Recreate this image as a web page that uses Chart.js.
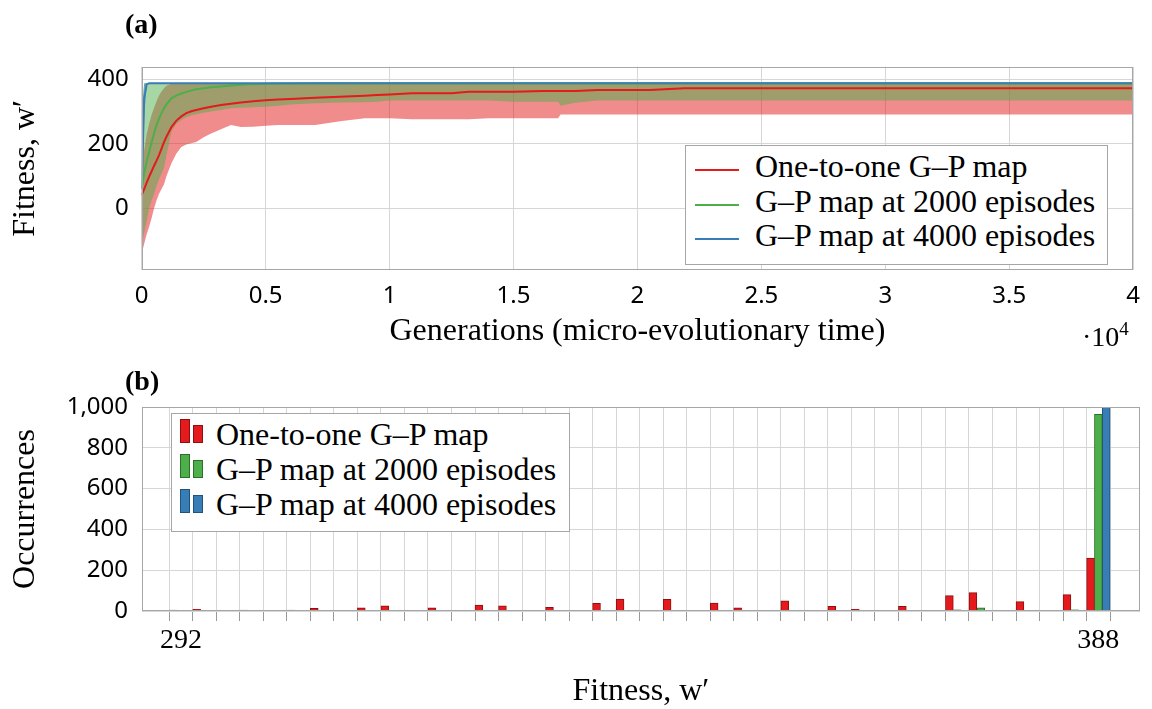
<!DOCTYPE html>
<html>
<head>
<meta charset="utf-8">
<script src="https://cdn.jsdelivr.net/npm/chart.js@4.4.0/dist/chart.umd.min.js"></script>
<style>
  html, body { margin: 0; padding: 0; background: #fff; }
  body { width: 1152px; height: 709px; position: relative; overflow: hidden; font-family: "Liberation Serif", serif; color: #000; }
  canvas { position: absolute; left: 0; }
  #chartA { top: 0; }
  #chartB { top: 355px; }
  .panel-tag { position: absolute; font-weight: bold; font-size: 28px; line-height: 28px; }
  #tagA { left: 125px; top: 10px; }
  #tagB { left: 125px; top: 367px; }
  #expo { position: absolute; left: 1082px; top: 322px; font-size: 28px; line-height: 30px; }
  #expo sup { font-size: 19px; vertical-align: 11px; line-height: 0; }
  .legend-box { position: absolute; background: #fff; border: 1px solid #a6a6a6; box-sizing: border-box; }
  #legendA { left: 685px; top: 145px; width: 423px; height: 120px; }
  #legendB { left: 171px; top: 413px; width: 399px; height: 119px; }
  .legend-row { position: absolute; left: 0; right: 0; height: 34px; font-size: 32px; line-height: 34px; white-space: nowrap; }
  #legendA .legend-text { position: absolute; left: 69px; }
  #legendB .legend-text { position: absolute; left: 44px; }
  .line-icon { position: absolute; left: 9px; top: 20px; width: 44px; height: 2px; }
  .bar-icon { position: absolute; box-sizing: border-box; border: 1px solid; bottom: 8px; }
</style>
</head>
<body>
<canvas id="chartA" width="1152" height="355"></canvas>
<canvas id="chartB" width="1152" height="354"></canvas>
<div class="panel-tag" id="tagA">(a)</div>
<div class="panel-tag" id="tagB">(b)</div>
<div id="expo">·10<sup>4</sup></div>
<div class="legend-box" id="legendA"></div>
<div class="legend-box" id="legendB"></div>
<script>
// séries comuns aos dois painéis
const seriesNames = ['One-to-one G–P map', 'G–P map at 2000 episodes', 'G–P map at 4000 episodes'];
const seriesColors = ['#e41a1c', '#4daf4a', '#377eb8'];
const seriesBands = ['rgba(228,26,28,0.5)', 'rgba(77,175,74,0.5)', 'rgba(55,126,184,0.5)'];
const seriesEdges = ['#8c1012', '#2d6e2b', '#22527a'];

// painel (a): aptidão ao longo das gerações
const gens = [0, 100, 200, 300, 400, 500, 600, 700, 800, 900,
  1000, 1200, 1400, 1600, 1800, 2000, 2200, 2500, 2800, 3200,
  3600, 4000, 4500, 5000, 5500, 6000, 7000, 8000, 9000, 9500,
  10000, 10900, 11500, 12500, 13200, 14000, 15000, 16200, 16800, 16900,
  17500, 18400, 19500, 20500, 21900, 25000, 30000, 35000, 40000];

const redMean = [41, 60, 80, 98, 115, 132, 148, 165, 185, 205,
  222, 252, 272, 285, 295, 301, 305, 310, 315, 320,
  324, 328, 332, 335, 337, 339, 343, 346, 349, 351,
  353, 357, 357, 357, 361, 361, 361, 364, 364, 364,
  364, 367, 367, 367, 372, 372, 372, 372, 372];
const redLo = [-140, -110, -80, -57, -30, 0, 25, 45, 60, 75,
  100, 140, 170, 190, 198, 202, 206, 220, 232, 245,
  258, 252, 253, 256, 258, 258, 258, 270, 279, 279,
  279, 276, 276, 276, 276, 279, 279, 279, 279, 291,
  291, 291, 291, 291, 291, 291, 291, 291, 291];
const redHi = [100, 180, 230, 262, 290, 312, 332, 350, 362, 372,
  380, 386, 388, 388, 388, 388, 388, 388, 388, 388,
  388, 388, 388, 388, 388, 388, 388, 388, 388, 388,
  388, 388, 388, 388, 388, 388, 388, 388, 388, 388,
  388, 388, 388, 388, 388, 388, 388, 388, 388];

const greenMean = [60, 110, 145, 175, 205, 232, 258, 278, 295, 310,
  322, 341, 350, 356, 361, 365, 369, 372, 375, 378,
  381, 383, 385, 386, 387, 387, 388, 388, 388, 388,
  388, 388, 388, 388, 388, 388, 388, 388, 388, 388,
  388, 388, 388, 388, 388, 388, 388, 388, 388];
const greenLo = [-110, -75, -40, 0, 25, 45, 70, 90, 108, 125,
  165, 238, 262, 274, 282, 288, 292, 296, 300, 305,
  310, 312, 313, 315, 318, 322, 326, 328, 329, 330,
  334, 334, 334, 334, 334, 334, 330, 330, 330, 318,
  327, 334, 334, 334, 334, 334, 334, 334, 334];
const greenHi = [300, 388, 388, 388, 388, 388, 388, 388, 388, 388,
  388, 388, 388, 388, 388, 388, 388, 388, 388, 388,
  388, 388, 388, 388, 388, 388, 388, 388, 388, 388,
  388, 388, 388, 388, 388, 388, 388, 388, 388, 388,
  388, 388, 388, 388, 388, 388, 388, 388, 388];

const blueMean = [60, 340, 384, 388, 388, 388, 388, 388, 388, 388,
  388, 388, 388, 388, 388, 388, 388, 388, 388, 388,
  388, 388, 388, 388, 388, 388, 388, 388, 388, 388,
  388, 388, 388, 388, 388, 388, 388, 388, 388, 388,
  388, 388, 388, 388, 388, 388, 388, 388, 388];
const blueLo = [-114, 280, 383, 388, 388, 388, 388, 388, 388, 388,
  388, 388, 388, 388, 388, 388, 388, 388, 388, 388,
  388, 388, 388, 388, 388, 388, 388, 388, 388, 388,
  388, 388, 388, 388, 388, 388, 388, 388, 388, 388,
  388, 388, 388, 388, 388, 388, 388, 388, 388];
const blueHi = [300, 388, 388, 388, 388, 388, 388, 388, 388, 388,
  388, 388, 388, 388, 388, 388, 388, 388, 388, 388,
  388, 388, 388, 388, 388, 388, 388, 388, 388, 388,
  388, 388, 388, 388, 388, 388, 388, 388, 388, 388,
  388, 388, 388, 388, 388, 388, 388, 388, 388];

const yTicksA = [0, 200, 400];

// painel (b): histograma da aptidão final (40 classes)
const occRed = [4, 8, 0, 4, 0, 4, 13, 0, 15, 25,
  0, 16, 0, 29, 25, 0, 18, 0, 38, 59,
  0, 57, 0, 39, 16, 0, 50, 0, 23, 8,
  0, 23, 0, 75, 90, 0, 46, 0, 80, 259];
const occGreen = [0, 0, 0, 0, 0, 0, 0, 0, 0, 0,
  0, 0, 0, 0, 0, 0, 0, 0, 2, 0,
  0, 0, 0, 0, 0, 0, 0, 0, 2, 0,
  0, 2, 0, 6, 16, 0, 2, 0, 6, 964];
const occBlue = [0, 0, 0, 0, 0, 0, 0, 0, 0, 0,
  0, 0, 0, 0, 0, 0, 0, 0, 0, 0,
  0, 0, 0, 0, 0, 0, 0, 0, 0, 0,
  0, 0, 0, 0, 0, 0, 0, 0, 0, 1000];
const binTickPos = [0, 39];
const binTickLabels = ['292', '388'];

const gridColor = '#d6d6d6';
const frameColor = '#a6a6a6';
const tickFont = { family: 'Noto Sans', size: 24 };
const titleFont = { family: 'Liberation Serif', size: 32 };

Chart.defaults.color = '#000';
Chart.defaults.elements.point.radius = 0;

// Moldura completa em volta da área do gráfico (estilo pgfplots).
const framePlugin = {
    id: 'frame',
    afterDatasetsDraw(chart) {
        const { ctx, chartArea: a } = chart;
        ctx.save();
        ctx.strokeStyle = frameColor;
        ctx.lineWidth = 1;
        ctx.strokeRect(Math.round(a.left) + 0.5, Math.round(a.top) + 0.5, Math.round(a.width) - 1, Math.round(a.height) - 1);
        ctx.restore();
    }
};

const toXY = values => values.map((v, i) => ({ x: gens[i], y: v }));

// Painel (a): faixas (min–max) + médias.
const bandLo = [redLo, greenLo, blueLo];
const bandHi = [redHi, greenHi, blueHi];
const means = [redMean, greenMean, blueMean];
const datasetsA = [];
seriesNames.forEach((name, i) => {
    const order = 3 - i; // azul por cima
    datasetsA.push({ data: toXY(bandLo[i]), borderWidth: 0, fill: false, order });
    datasetsA.push({ data: toXY(bandHi[i]), borderWidth: 0, fill: '-1', backgroundColor: seriesBands[i], order });
});
seriesNames.forEach((name, i) => {
    datasetsA.push({ label: name, data: toXY(means[i]), borderColor: seriesColors[i], borderWidth: 2, fill: false, order: 3 - i });
});

new Chart(document.getElementById('chartA'), {
    type: 'line',
    data: { datasets: datasetsA },
    options: {
        responsive: false,
        animation: false,
        devicePixelRatio: 1,
        layout: { padding: { top: 66.7, right: 12, left: 0, bottom: 0 } },
        plugins: {
            legend: { display: false },
            tooltip: { enabled: false },
            filler: { drawTime: 'beforeDatasetsDraw' }
        },
        scales: {
            x: {
                type: 'linear', min: 0, max: 40000,
                ticks: { stepSize: 5000, callback: v => String(v / 1e4), font: tickFont, padding: 12, maxRotation: 0 },
                grid: { color: gridColor, drawTicks: false },
                border: { display: false },
                title: { display: true, text: 'Generations (micro-evolutionary time)', font: titleFont, padding: { top: 0, bottom: 3.8 } },
                afterFit: s => { s.height = 85; }
            },
            y: {
                min: -191, max: 439,
                afterBuildTicks: s => { s.ticks = yTicksA.map(v => ({ value: v })); },
                ticks: { font: tickFont, padding: 13 },
                grid: { color: gridColor, drawTicks: false },
                border: { display: false },
                title: { display: true, text: 'Fitness, w′', font: titleFont, padding: { top: 6.8, bottom: 0 } },
                afterFit: s => { s.width = 141.7; }
            }
        }
    },
    plugins: [framePlugin]
});

// Painel (b): barras agrupadas sobre um eixo linear em índice de classe.
const occurrences = [occRed, occGreen, occBlue];
const binEdges = occRed.map((_, i) => i - 0.5).concat([occRed.length - 0.5]);
const xMinB = -1.67, xMaxB = 40.77;

new Chart(document.getElementById('chartB'), {
    type: 'bar',
    data: {
        datasets: seriesNames.map((name, i) => ({
            label: name,
            data: occurrences[i].map((v, k) => ({ x: k, y: v })),
            backgroundColor: seriesColors[i],
            borderColor: seriesEdges[i],
            borderWidth: 1,
            categoryPercentage: 1,
            barPercentage: 1,
            xAxisID: 'x'
        }))
    },
    options: {
        responsive: false,
        animation: false,
        devicePixelRatio: 1,
        layout: { padding: { top: 52, right: 12, left: 0, bottom: 0 } },
        plugins: { legend: { display: false }, tooltip: { enabled: false } },
        scales: {
            xg: {
                type: 'linear', position: 'bottom', min: xMinB, max: xMaxB, weight: 0, offset: false,
                afterBuildTicks: s => { s.ticks = binEdges.map(v => ({ value: v })); },
                ticks: { display: false },
                grid: { color: gridColor, tickLength: 10, tickColor: '#9a9a9a', offset: false },
                border: { display: false },
                afterFit: s => { s.height = 10; }
            },
            x: {
                type: 'linear', position: 'bottom', min: xMinB, max: xMaxB, weight: 1, offset: false,
                afterBuildTicks: s => { s.ticks = binTickPos.map(v => ({ value: v })); },
                ticks: {
                    callback: v => binTickLabels[binTickPos.indexOf(v)],
                    font: { family: 'Liberation Serif', size: 28 }, padding: 3.2, maxRotation: 0, autoSkip: false
                },
                grid: { display: false, drawTicks: false, offset: false },
                border: { display: false },
                title: { display: true, text: 'Fitness, w′', font: { family: 'Liberation Serif', size: 32, lineHeight: 1 }, padding: { top: 0, bottom: 1 } },
                afterFit: s => { s.height = 88; }
            },
            y: {
                min: 0, max: 1000,
                ticks: { stepSize: 200, font: tickFont, padding: 13.7, callback: v => v.toLocaleString('en-US') },
                grid: { color: gridColor, drawTicks: false },
                border: { display: false },
                title: { display: true, text: 'Occurrences', font: titleFont, padding: { top: 6.8, bottom: 0 } },
                afterFit: s => { s.width = 141.7; }
            }
        }
    },
    plugins: [framePlugin]
});

// Legendas HTML sobrepostas aos gráficos.
function buildLegend(boxId, rowTop, rowGap, makeIcon) {
    const box = document.getElementById(boxId);
    seriesNames.forEach((name, i) => {
        const row = document.createElement('div');
        row.className = 'legend-row';
        row.style.top = (rowTop + i * rowGap) + 'px';
        row.innerHTML = makeIcon(i) + `<span class="legend-text">${name}</span>`;
        box.appendChild(row);
    });
}

buildLegend('legendA', 3, 34.7, i =>
    `<span class="line-icon" style="background-color: ${seriesColors[i]};"></span>`);
buildLegend('legendB', 3, 35, i =>
    `<span class="bar-icon" style="left: 8px; width: 10px; height: 24px; background-color: ${seriesColors[i]}; border-color: ${seriesEdges[i]};"></span>` +
    `<span class="bar-icon" style="left: 21px; width: 10px; height: 18px; background-color: ${seriesColors[i]}; border-color: ${seriesEdges[i]};"></span>`);
</script>
</body>
</html>
